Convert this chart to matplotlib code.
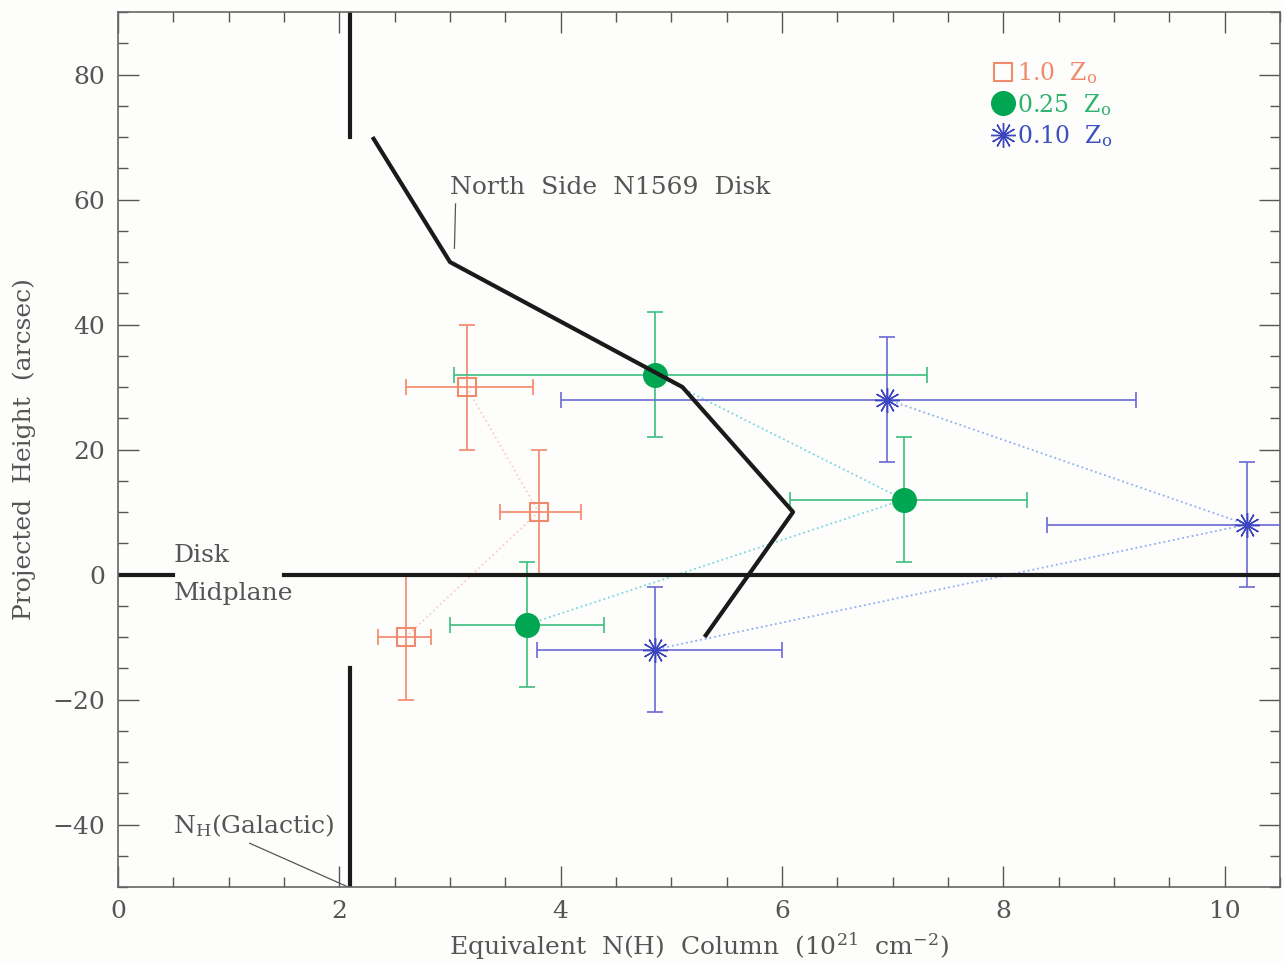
import numpy as np
import matplotlib
matplotlib.use('Agg')
from matplotlib import pyplot as plt
from matplotlib.lines import Line2D
from matplotlib.ticker import MultipleLocator

# 1.0 Zo (red squares)
red_x = [3.15, 3.8, 2.6]
red_y = [30, 10, -10]
red_xlo = [2.6, 3.45, 2.35]
red_xhi = [3.75, 4.18, 2.83]
red_yerr = [10, 10, 10]

# 0.25 Zo (green circles)
grn_x = [4.85, 7.1, 3.7]
grn_y = [32, 12, -8]
grn_xlo = [3.04, 6.07, 3.0]
grn_xhi = [7.31, 8.21, 4.39]
grn_yerr = [10, 10, 10]

# 0.10 Zo (blue asterisks)
blu_x = [6.95, 10.2, 4.85]
blu_y = [28, 8, -12]
blu_xlo = [4.0, 8.39, 3.79]
blu_xhi = [9.2, 12.0, 6.0]
blu_yerr = [10, 10, 10]

# disk profile
disk_x = [2.3, 3.0, 5.1, 6.1, 5.3]
disk_y = [70, 50, 30, 10, -10]

nh_gal = 2.1

gray = '#555555'
fs = 18
plt.rcParams['font.family'] = ['DejaVu Serif']
plt.rcParams['mathtext.fontset'] = 'dejavuserif'

fig = plt.figure(figsize=(12.84, 9.63), dpi=100, facecolor='#fdfdfb')
ax = fig.add_axes([0.0919, 0.0789, 0.905, 0.9086])
ax.set_facecolor('#fdfdfb')


def draw_set(x, y, xlo, xhi, yerr, ecol, mk, ms, mfc, mec, mew, dotcol):
    x = np.array(x)
    xerr = [x - np.array(xlo), np.array(xhi) - x]
    ax.plot(x, y, ls=':', color=dotcol, lw=1.3, zorder=2)
    ax.errorbar(x, y, xerr=xerr, yerr=yerr, fmt='none', ecolor=ecol,
                elinewidth=1.2, capsize=6, capthick=1.2, zorder=3)
    ax.plot(x, y, ls='none', marker=mk, ms=ms, mfc=mfc, mec=mec, mew=mew,
            zorder=5)


draw_set(red_x, red_y, red_xlo, red_xhi, red_yerr, '#f4876a', 's', 13,
         'none', '#f08a6c', 1.5, '#fbd0c2')
draw_set(grn_x, grn_y, grn_xlo, grn_xhi, grn_yerr, '#3cbf80', 'o', 17,
         '#00a651', '#00a651', 1, '#7ad6e0')
draw_set(blu_x, blu_y, blu_xlo, blu_xhi, blu_yerr, '#6a6ad8',
         (12, 2, 0), 18, '#3c46c0', '#3c46c0', 1.0, '#90aef2')

# thick black reference lines
ax.plot(disk_x, disk_y, color='#1a1a1a', lw=3, zorder=6, solid_capstyle='butt')
ax.plot([nh_gal, nh_gal], [70, 90], color='#1a1a1a', lw=3)
ax.plot([nh_gal, nh_gal], [-50, -15], color='#1a1a1a', lw=3)
ax.plot([0, 0.5], [0, 0], color='#1a1a1a', lw=3)
ax.plot([1.5, 10.5], [0, 0], color='#1a1a1a', lw=3, zorder=4)

# annotations
ax.text(3.0, 62, 'North  Side  N1569  Disk', fontsize=fs, color=gray,
        ha='left', va='center')
ax.plot([3.05, 3.04], [59.3, 52.2], color=gray, lw=0.9)
ax.text(0.5, 3.0, 'Disk', fontsize=fs, color=gray, ha='left', va='center')
ax.text(0.5, -3.0, 'Midplane', fontsize=fs, color=gray, ha='left',
        va='center')
ax.text(0.5, -40.2, r'N$_{\rm H}$(Galactic)', fontsize=fs, color=gray,
        ha='left', va='center')
ax.plot([1.19, 2.08], [-43, -50], color=gray, lw=0.9)

# legend
handles = [
    Line2D([], [], ls='none', marker='s', ms=13, mfc='none', mec='#f08a6c',
           mew=1.5),
    Line2D([], [], ls='none', marker='o', ms=17, mfc='#00a651',
           mec='#00a651'),
    Line2D([], [], ls='none', marker=(12, 2, 0), ms=18, mec='#3c46c0',
           mew=1.0),
]
labels = [r'1.0  Z$_{\rm o}$', r'0.25  Z$_{\rm o}$', r'0.10  Z$_{\rm o}$']
leg = ax.legend(handles, labels, loc='upper left',
                bbox_to_anchor=(0.741, 0.958), frameon=False, fontsize=17,
                handlelength=1.0, handletextpad=0.1, labelspacing=0.22,
                borderpad=0,
                labelcolor=['#f08a6c', '#2fb36f', '#3c50c0'])

ax.set_xlim(0, 10.5)
ax.set_ylim(-50, 90)
ax.xaxis.set_major_locator(MultipleLocator(2))
ax.xaxis.set_minor_locator(MultipleLocator(0.5))
ax.yaxis.set_major_locator(MultipleLocator(20))
ax.yaxis.set_minor_locator(MultipleLocator(5))
ax.tick_params(which='both', direction='in', top=True, right=True,
               colors=gray, labelsize=fs, width=1)
ax.tick_params(which='major', length=15, pad=9)
ax.tick_params(which='minor', length=7)
ax.set_yticks([-40, -20, 0, 20, 40, 60, 80])
ax.set_yticklabels(['\u221240', '\u221220', '0', '20', '40', '60', '80'])
for s in ax.spines.values():
    s.set_color('#666666')
    s.set_linewidth(1.2)

ax.set_xlabel(r'Equivalent  N(H)  Column  (10$^{21}$  cm$^{-2}$)',
              fontsize=fs, color=gray, labelpad=6)
ax.set_ylabel('Projected  Height  (arcsec)', fontsize=fs, color=gray,
              labelpad=12)

fig.savefig('out.png', dpi=100, facecolor=fig.get_facecolor())
